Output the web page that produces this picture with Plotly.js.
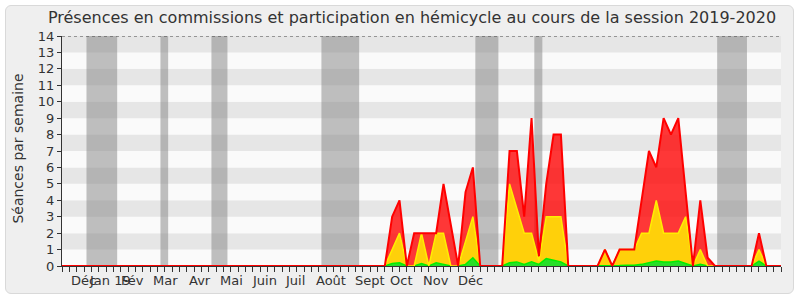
<!DOCTYPE html>
<html><head><meta charset="utf-8">
<script src="https://cdn.plot.ly/plotly-3.0.1.min.js"></script>
<style>
html,body{margin:0;padding:0;background:#fff;}
#frame{position:absolute;left:5px;top:5px;width:787px;height:287px;border:1px solid #d9d9d9;border-radius:6px;background:#efefef;}
#chart{position:absolute;left:0;top:0;width:800px;height:300px;}
</style></head><body>
<div id="frame"></div><div id="chart"></div>
<script>
// ---- Data ----
const titre = "Présences en commissions et participation en hémicycle au cours de la session 2019-2020";
const titreY = "Séances par semaine";
const nbSemaines = 99; // weeks 0..98
const semaines = Array.from({length: nbSemaines}, (_, i) => i);

// green (bottom) component
const vert = [
 0,0,0,0,0,0,0,0,0,0,
 0,0,0,0,0,0,0,0,0,0,
 0,0,0,0,0,0,0,0,0,0,
 0,0,0,0,0,0,0,0,0,0,
 0,0,0,0,0,.15,.2,0,0,.15,
 0,.2,.1,0,0,.1,.5,0,0,0,
 0,.2,.25,.1,.25,.1,.45,.35,.25,0,
 0,0,0,0,0,0,.03,.05,.05,.1,
 .2,.3,.25,.25,.3,.15,0,.1,0,0,
 0,0,0,0,0,.3,0,0,0
];
// yellow component (stacked on green)
const jaune = [
 0,0,0,0,0,0,0,0,0,0,
 0,0,0,0,0,0,0,0,0,0,
 0,0,0,0,0,0,0,0,0,0,
 0,0,0,0,0,0,0,0,0,0,
 0,0,0,0,0,.85,1.8,0,0,1.85,
 0,1.8,1.9,0,0,1.4,2.5,0,0,0,
 0,4.8,3.25,1.9,1.75,.2,2.55,2.65,2.75,0,
 0,0,0,0,1,0,.97,.95,.95,1.9,
 1.8,3.7,1.75,1.75,1.7,2.85,0,.9,0,0,
 0,0,0,0,0,.7,0,0,0
];
// red component (stacked on yellow)
const rouge = [
 0,0,0,0,0,0,0,0,0,0,
 0,0,0,0,0,0,0,0,0,0,
 0,0,0,0,0,0,0,0,0,0,
 0,0,0,0,0,0,0,0,0,0,
 0,0,0,0,0,2,2,0,2,0,
 2,0,3,2.5,0,3,3,0,0,0,
 0,2,3.5,1,7,.3,2,5,5,0,
 0,0,0,0,0,0,0,0,0,2,
 5,2,7,6,7,1.5,0,3,.5,0,
 0,0,0,0,0,1,0,0,0
];

// vacation periods (week units)
const vacDebut = [3.34, 13.42, 20.37, 35.36, 56.34, 64.38, 89.3];
const vacFin   = [7.52, 14.47, 22.55, 40.5, 59.48, 65.47, 93.36];

// month labels and their positions (week units)
const moisLabels = ["Déc","Jan 19","Fév","Mar","Avr","Mai","Juin","Juil","Août","Sept","Oct","Nov","Déc"];
const moisPos    = [2.93, 6.53, 9.55, 14.14, 18.87, 23.1, 27.6, 31.76, 36.72, 42.04, 46.15, 50.95, 55.74];

// ---- Chart ----
const traces = [
  {x: semaines, y: vert, stackgroup: 's', mode: 'lines', line: {color: '#00ee00', width: 1.5}, fillcolor: 'rgb(40,222,40)', hoverinfo: 'skip'},
  {x: semaines, y: jaune, stackgroup: 's', mode: 'lines', line: {color: '#ffee00', width: 1.5}, fillcolor: 'rgb(255,208,10)', hoverinfo: 'skip'},
  {x: semaines, y: rouge, stackgroup: 's', mode: 'lines', line: {color: '#ff0000', width: 2}, fillcolor: 'rgba(255,0,0,0.78)', hoverinfo: 'skip'}
];

const shapes = [];
for (let k = 0; k < 14; k++) {
  shapes.push({type: 'rect', xref: 'paper', x0: 0, x1: 1, yref: 'y', y0: k, y1: k + 1,
    fillcolor: (k % 2 === 1) ? '#e6e6e6' : '#fafafa', line: {width: 0}, layer: 'below'});
}
vacDebut.forEach((d, i) => {
  shapes.push({type: 'rect', xref: 'x', x0: d, x1: vacFin[i], yref: 'paper', y0: 0, y1: 1,
    fillcolor: 'rgba(130,130,130,0.5)', line: {width: 0}, layer: 'below'});
});
shapes.push({type: 'line', xref: 'paper', x0: 0, x1: 1, yref: 'y', y0: 14, y1: 14,
  line: {color: '#444', width: 1, dash: 'dot'}, layer: 'above'});

const annotations = moisLabels.map((t, i) => ({
  text: t, xref: 'x', x: moisPos[i], yref: 'paper', y: -0.02, yanchor: 'top', xanchor: 'center',
  showarrow: false, font: {family: 'DejaVu Sans', size: 13, color: '#333'}
}));
annotations.push({text: titreY, xref: 'paper', x: -0.061, yref: 'paper', y: 0.511, textangle: -90,
  xanchor: 'center', yanchor: 'middle', showarrow: false, font: {family: 'DejaVu Sans', size: 14, color: '#333'}});

const layout = {
  width: 800, height: 300,
  margin: {l: 62, r: 19, t: 36, b: 34, pad: 0},
  paper_bgcolor: 'rgba(0,0,0,0)',
  plot_bgcolor: '#fafafa',
  showlegend: false,
  font: {family: 'DejaVu Sans', size: 13, color: '#333'},
  title: {text: titre, font: {family: 'DejaVu Sans', size: 16, color: '#333'},
          x: 0.515, xanchor: 'center', y: 0.943, yanchor: 'middle'},
  xaxis: {range: [0, 98], tickmode: 'linear', tick0: 0, dtick: 1, ticks: 'outside', ticklen: 5,
          tickcolor: '#333', showticklabels: false, showline: true, linecolor: '#333', linewidth: 1,
          showgrid: false, zeroline: false, fixedrange: true},
  yaxis: {range: [0, 14], tickmode: 'linear', tick0: 0, dtick: 1, ticks: 'outside', ticklen: 4,
          tickcolor: '#333', showline: true, linecolor: '#333', linewidth: 1, showgrid: false,
          zeroline: false, fixedrange: true, tickfont: {family: 'DejaVu Sans', size: 13, color: '#333'}},
  shapes: shapes,
  annotations: annotations
};

Plotly.newPlot('chart', traces, layout, {staticPlot: true, displayModeBar: false});
</script></body></html>
